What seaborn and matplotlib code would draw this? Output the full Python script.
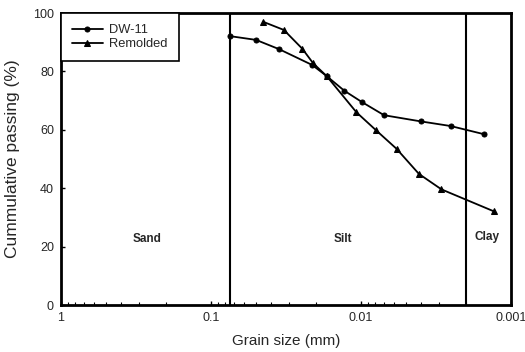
import matplotlib
matplotlib.use("Agg")
import matplotlib.pyplot as plt
import seaborn as sns
import pandas as pd
import numpy as np

# Data
dw11_size = [0.075, 0.050, 0.035, 0.0211, 0.0169, 0.0129, 0.0099, 0.0070, 0.0040, 0.00252, 0.00151]
dw11_pass = [92.1, 90.8, 87.6, 82.2, 78.4, 73.4, 69.6, 65.0, 62.9, 61.3, 58.5]
rem_size = [0.0448, 0.0326, 0.0246, 0.0208, 0.0169, 0.0107, 0.0079, 0.00578, 0.0041, 0.0029, 0.0013]
rem_pass = [97.0, 94.2, 87.8, 82.8, 78.4, 66.0, 59.8, 53.5, 44.9, 39.6, 32.1]
boundaries = [0.075, 0.002]
zone_labels = ["Sand", "Silt", "Clay"]
zone_x = [0.267, 0.0132, 0.00145]
zone_y = [22.6, 22.6, 23.3]
x_ticks = [1, 0.1, 0.01, 0.001]
x_ticklabels = ["1", "0.1", "0.01", "0.001"]
y_ticks = [0, 20, 40, 60, 80, 100]

sns.set_style("ticks")
plt.rcParams['font.family'] = ['Liberation Sans', 'DejaVu Sans']

df1 = pd.DataFrame({"size": dw11_size, "passing": dw11_pass})
df2 = pd.DataFrame({"size": rem_size, "passing": rem_pass})

fig = plt.figure(figsize=(5.25, 3.52), dpi=100)
ax = fig.add_axes([0.116, 0.1335, 0.857, 0.8295])

sns.lineplot(data=df1, x="size", y="passing", ax=ax, color="black", lw=1.3,
             marker="o", markersize=3.6, markeredgecolor="black", label="DW-11",
             sort=False, estimator=None)
sns.lineplot(data=df2, x="size", y="passing", ax=ax, color="black", lw=1.3,
             marker="^", markersize=4.2, markeredgecolor="black", label="Remolded",
             sort=False, estimator=None)

for b in boundaries:
    ax.axvline(b, color="black", lw=1.5)

ax.set_xscale("log")
ax.set_xlim(1, 0.001)
ax.set_ylim(0, 100)
ax.set_xticks(x_ticks)
ax.set_xticklabels(x_ticklabels)
ax.set_yticks(y_ticks)
ax.tick_params(axis="both", which="both", direction="in", labelsize=9, color="black")
ax.tick_params(axis="both", which="major", length=3, width=1, pad=5)
ax.tick_params(axis="x", which="minor", length=2, width=0.8)

for sp in ax.spines.values():
    sp.set_visible(True)
    sp.set_linewidth(2)
    sp.set_color("black")

for t, xx, yy in zip(zone_labels, zone_x, zone_y):
    ax.text(xx, yy, t, ha="center", va="center", fontsize=8.5, fontweight="bold")

ax.set_xlabel("Grain size (mm)", fontsize=11, labelpad=7)
ax.set_ylabel("Cummulative passing (%)", fontsize=12.5, labelpad=9)

leg = ax.legend(loc="upper left", frameon=True, fancybox=False, fontsize=9.3,
                borderaxespad=0, handlelength=2.4, handletextpad=0.5,
                borderpad=0.85, labelspacing=0.15)
leg.get_frame().set_edgecolor("black")
leg.get_frame().set_linewidth(1.2)
leg.get_frame().set_alpha(1)

fig.savefig("out.png", dpi=100)
